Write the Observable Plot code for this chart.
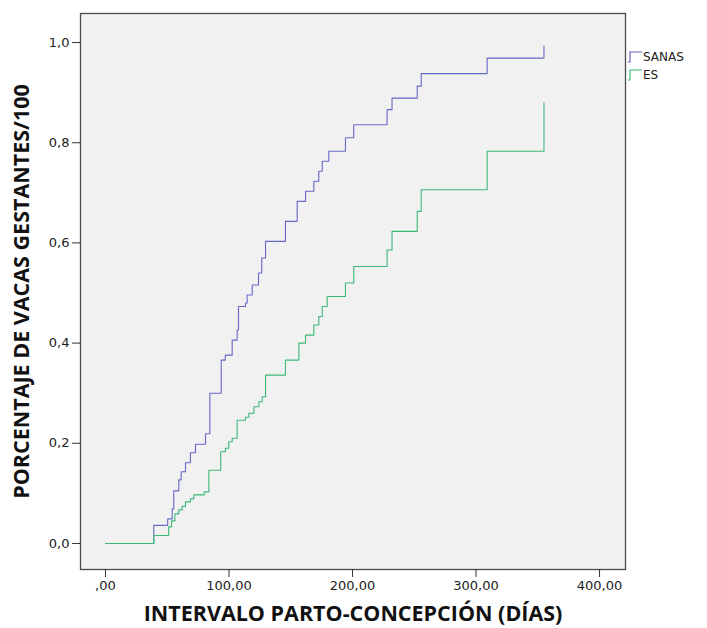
<!DOCTYPE html>
<html>
<head>
<meta charset="utf-8">
<script src="https://cdn.jsdelivr.net/npm/d3@7"></script>
<script src="https://cdn.jsdelivr.net/npm/@observablehq/plot@0.6"></script>
<style>
  html, body { margin: 0; padding: 0; background: #ffffff; }
  #wrap { position: relative; width: 707px; height: 628px; }
  #legend { position: absolute; left: 0; top: 0; pointer-events: none; }
</style>
</head>
<body>
<div id="wrap"></div>
<script>
// ---- data ----
const seriesNames = ["SANAS", "ES"];
const seriesColors = ["#6868c8", "#3cb878"];

// SANAS: step-after events (day, cumulative proportion)
const sanasDays = [0, 39.1, 50.4, 54, 55.3, 59.4, 61.3, 64.8, 68.8, 72.9, 81, 84.5, 93.7, 97, 102.6, 106.6, 107.7, 113.4, 114.7, 118.8, 123.9, 126.5, 129.6, 145.7, 155.2, 162, 168.7, 172.7, 175.5, 180.8, 194.3, 201, 228, 232, 252.4, 255.6, 309, 355];
const sanasVals = [0, 0.036, 0.049, 0.069, 0.105, 0.127, 0.143, 0.161, 0.181, 0.198, 0.219, 0.3, 0.366, 0.376, 0.406, 0.426, 0.473, 0.48, 0.496, 0.516, 0.54, 0.57, 0.603, 0.643, 0.683, 0.703, 0.723, 0.743, 0.763, 0.783, 0.81, 0.836, 0.866, 0.889, 0.913, 0.938, 0.969, 0.969];

// ES: step-after events
const esDays = [0, 39.1, 51.2, 53.5, 56.2, 59.4, 62.1, 64.8, 68.8, 71.5, 80, 83.7, 93.3, 97.1, 99.8, 102.6, 106.6, 113.4, 116.1, 120.2, 124.2, 126.9, 129.6, 145.7, 156.6, 162, 168.7, 172.7, 175.5, 179.5, 194.3, 201, 228, 232, 252.4, 255.6, 309, 355];
const esVals = [0, 0.016, 0.033, 0.045, 0.059, 0.067, 0.074, 0.083, 0.089, 0.097, 0.103, 0.146, 0.183, 0.19, 0.203, 0.21, 0.246, 0.252, 0.26, 0.273, 0.283, 0.293, 0.336, 0.366, 0.40, 0.416, 0.436, 0.453, 0.473, 0.493, 0.52, 0.553, 0.586, 0.623, 0.663, 0.706, 0.783, 0.783];

// censored end marks (day, from, to)
const censorDays = [355, 355];
const censorFrom = [0.969, 0.783];
const censorTo = [0.993, 0.88];

const xTicks = [0, 100, 200, 300, 400];
const xTickLabels = [",00", "100,00", "200,00", "300,00", "400,00"];
const yTicks = [0, 0.2, 0.4, 0.6, 0.8, 1.0];
const yTickLabels = ["0,0", "0,2", "0,4", "0,6", "0,8", "1,0"];

const xTitle = "INTERVALO PARTO-CONCEPCIÓN (DÍAS)";
const yTitle = "PORCENTAJE DE VACAS GESTANTES/100";

// ---- build tables ----
const rows = [];
sanasDays.forEach((d, i) => rows.push({series: seriesNames[0], day: d, val: sanasVals[i]}));
esDays.forEach((d, i) => rows.push({series: seriesNames[1], day: d, val: esVals[i]}));
const censor = censorDays.map((d, i) => ({series: seriesNames[i], day: d, y1: censorFrom[i], y2: censorTo[i]}));

const colorOf = Object.fromEntries(seriesNames.map((n, i) => [n, seriesColors[i]]));

const chart = Plot.plot({
  width: 707,
  height: 628,
  marginLeft: 80,
  marginRight: 82,
  marginTop: 13,
  marginBottom: 59,
  style: {fontFamily: "DejaVu Sans", fontSize: "12px", background: "#ffffff", color: "#222"},
  x: {domain: [-20.2, 421], ticks: xTicks},
  y: {domain: [-0.052, 1.058], ticks: yTicks},
  marks: [
    Plot.frame({fill: "#f1f1f1", stroke: null}),
    Plot.line(rows, {x: "day", y: "val", z: "series", stroke: d => colorOf[d.series], curve: "step-after", strokeWidth: 1.1}),
    Plot.ruleX(censor, {x: "day", y1: "y1", y2: "y2", stroke: d => colorOf[d.series], strokeWidth: 1.1}),
    Plot.frame({stroke: "#4a4a4a", strokeWidth: 1.3}),
    Plot.axisX(xTicks, {tickSize: 8, tickPadding: 3, tickFormat: d => xTickLabels[xTicks.indexOf(d)], label: null, fontSize: 13, stroke: "#333"}),
    Plot.axisY(yTicks, {tickSize: 8, tickPadding: 3, tickFormat: d => yTickLabels[yTicks.indexOf(d)], label: null, fontSize: 13, stroke: "#333"}),
    Plot.text([xTitle], {frameAnchor: "bottom", dy: 45, lineAnchor: "middle", textAnchor: "middle", text: d => d, fontSize: 21.5, fontWeight: "bold", fontFamily: "Open Sans", fill: "#111"}),
    Plot.text([yTitle], {frameAnchor: "left", dx: -58, rotate: -90, lineAnchor: "middle", textAnchor: "middle", text: d => d, fontSize: 21.5, fontWeight: "bold", fontFamily: "Open Sans", fill: "#111"})
  ]
});

const wrap = document.getElementById("wrap");
wrap.appendChild(chart);

// ---- legend (outside the plot frame, at right) ----
const leg = d3.create("svg").attr("id", "legend").attr("width", 707).attr("height", 628);
const g = leg.append("g").attr("transform", "translate(628,50)");
seriesNames.forEach((name, i) => {
  const item = g.append("g").attr("transform", `translate(0,${i * 18})`);
  item.append("path")
    .attr("d", "M0,12 L2,12 L2,2 L14,2")
    .attr("fill", "none")
    .attr("stroke", seriesColors[i])
    .attr("stroke-width", 1.2);
  item.append("text")
    .attr("x", 15).attr("y", 7)
    .attr("dy", "0.35em")
    .attr("font-family", "DejaVu Sans")
    .attr("font-size", 12)
    .attr("fill", "#222")
    .text(name);
});
wrap.appendChild(leg.node());
</script>
</body>
</html>
